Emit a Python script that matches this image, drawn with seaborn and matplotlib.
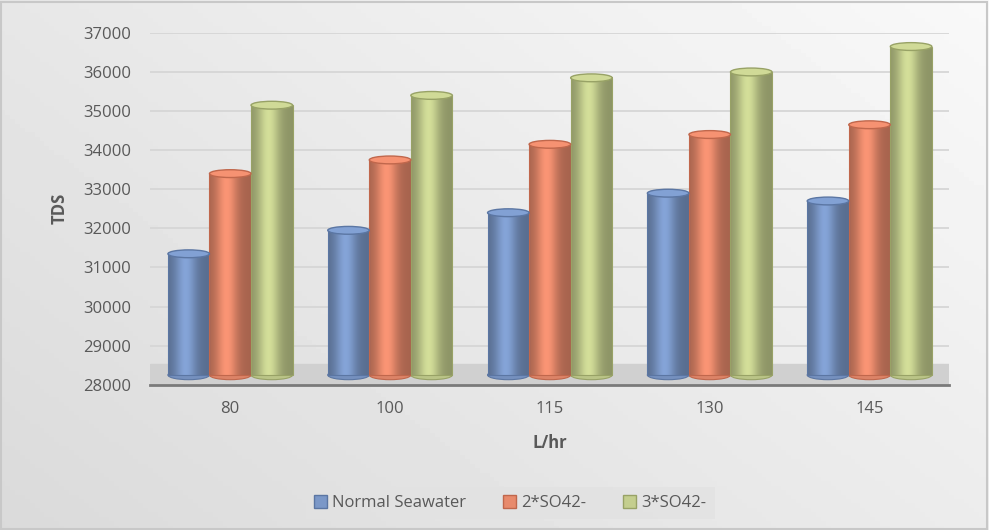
import numpy as np
import pandas as pd
import matplotlib
matplotlib.use("Agg")
import matplotlib.pyplot as plt
import seaborn as sns
from matplotlib.patches import Ellipse, Rectangle
from matplotlib.colors import to_rgb

flow = ["80", "100", "115", "130", "145"]
normal_sw = [31350, 31950, 32400, 32900, 32700]
so4_x2 = [33400, 33750, 34150, 34400, 34650]
so4_x3 = [35150, 35400, 35850, 36000, 36650]
series = ["Normal Seawater", "2*SO42-", "3*SO42-"]
colors = ["#7b98c8", "#e88a6c", "#c4ce8e"]
edges = ["#5b76a3", "#c0674c", "#98a266"]

df = pd.DataFrame({"L/hr": flow, series[0]: normal_sw, series[1]: so4_x2, series[2]: so4_x3})
df = df.melt(id_vars="L/hr", var_name="Series", value_name="TDS")

sns.set_theme(style="white")
plt.rcParams['font.family'] = ['Open Sans', 'DejaVu Sans']

fig = plt.figure(figsize=(9.89, 5.3), dpi=100)

# background gradient like the Excel chart area
bg = fig.add_axes([0, 0, 1, 1], zorder=-5)
gx, gy = np.meshgrid(np.linspace(0, 1, 200), np.linspace(1, 0, 120))
grad = np.clip(0.855 + 0.07 * gx + 0.05 * gy, 0, 1)
bg.imshow(grad, cmap="gray", vmin=0, vmax=1, aspect="auto", extent=[0, 1, 0, 1])
bg.add_patch(Rectangle((0.001, 0.002), 0.997, 0.995, fill=False, edgecolor="#c8c8c8", lw=1.5))
bg.axis("off")

ax = fig.add_axes([0.152, 0.274, 0.808, 0.664])
ax.set_facecolor("none")
sns.barplot(data=df, x="L/hr", y="TDS", hue="Series", palette=colors, width=0.78,
            saturation=1, ax=ax, edgecolor="none", zorder=3)

ymin, ymax = 28000, 37000
ax.axhspan(ymin, ymin + 520, color="#d0d0d0", zorder=1)

# cylinder shading and caps derived from the bar patches
t = np.linspace(0, 1, 80)
light = 0.72 + 0.36 * np.exp(-((t - 0.42) / 0.26) ** 2)
for cont, c, e in zip(ax.containers, colors, edges):
    base = np.array(to_rgb(c))
    img = np.clip(base[None, None, :] * light[None, :, None], 0, 1)
    for p in cont.patches:
        x0, w, top = p.get_x(), p.get_width(), p.get_height()
        p.set_visible(False)
        ax.imshow(img, extent=[x0, x0 + w, ymin + 250, top], aspect="auto", zorder=3)
        ax.add_patch(Rectangle((x0, ymin + 250), w, top - ymin - 250, fill=False,
                               edgecolor=e, lw=0.8, zorder=3.5))
        ax.add_patch(Ellipse((x0 + w / 2, ymin + 250), w, 240, facecolor=np.clip(base * 0.95, 0, 1),
                             edgecolor=e, lw=0.8, zorder=2.9))
        ax.add_patch(Ellipse((x0 + w / 2, top), w, 200, facecolor=np.clip(base * 1.06, 0, 1),
                             edgecolor=e, lw=1.0, zorder=4))

ax.set_xlim(-0.5, len(flow) - 0.5)
ax.set_ylim(ymin, ymax)
ax.set_yticks(range(ymin, ymax + 1, 1000))
ax.yaxis.grid(True, color="#d6d6d6", lw=1.3)
ax.set_axisbelow(True)
for s in ["top", "right", "left"]:
    ax.spines[s].set_visible(False)
ax.spines["bottom"].set_color("#7a7a7a")
ax.spines["bottom"].set_linewidth(2)
ax.spines["bottom"].set_zorder(5)

ax.tick_params(axis="both", length=0, labelcolor="#595959", labelsize=12)
ax.tick_params(axis="y", pad=14)
ax.tick_params(axis="x", pad=12)
ax.set_ylabel("TDS", fontsize=12, fontweight="bold", color="#595959", labelpad=10)
ax.set_xlabel("L/hr", fontsize=12, fontweight="bold", color="#595959", labelpad=12)

handles, labels = ax.get_legend_handles_labels()
ax.legend_.remove()
leg = fig.legend(handles, labels, loc="center", bbox_to_anchor=(0.516, 0.051), ncol=3,
                 frameon=True, facecolor="#e2e2e2", edgecolor="none", fontsize=12,
                 handlelength=0.8, handleheight=0.8, handletextpad=0.3, columnspacing=2.2,
                 borderpad=0.5, fancybox=False, labelcolor="#595959")
for h, e in zip(leg.legend_handles, edges):
    h.set_edgecolor(e)
    h.set_linewidth(1)

fig.savefig("out.png", dpi=100)
